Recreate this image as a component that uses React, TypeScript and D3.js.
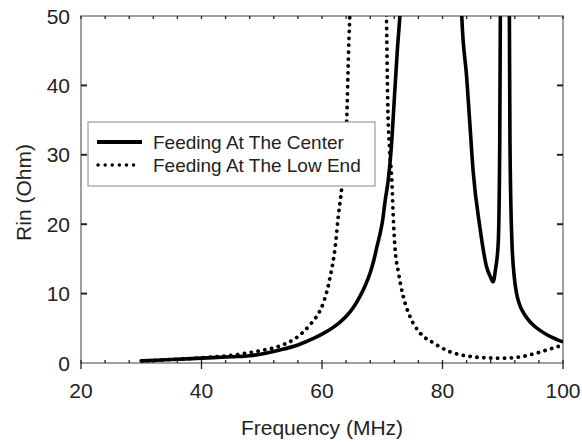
import React from "react";
import * as d3 from "d3";

const centerF = [30, 35, 40, 45, 48, 50, 53, 56, 58.5, 60, 61.8, 63, 64.1, 65.2, 66.3, 67.2, 68, 68.6, 69.1, 69.6, 70, 70.5, 71, 71.5, 72, 72.5, 73, 73.5, 83, 83.2, 84, 84.5, 85.1, 86.2, 87.3, 88, 88.4, 88.8, 89.25, 89.5, 89.6, 89.7, 91, 91.1, 91.2, 91.5, 91.9, 92.3, 92.8, 93.4, 94, 95, 96.2, 97.2, 98.3, 99.2, 100];
const centerR = [0.3, 0.5, 0.7, 0.9, 1.05, 1.3, 1.87, 2.6, 3.5, 4.15, 5.1, 5.9, 6.8, 8.0, 9.6, 11.2, 13, 14.8, 16.7, 18.5, 20.2, 23.5, 26.4, 31, 38, 45, 51, 60, 55, 50, 41.3, 35, 27.5, 19.6, 13.9, 12.3, 11.7, 13.5, 17.3, 31.7, 50, 60, 60, 50, 31.7, 18, 12.5, 10, 8.4, 7.3, 6.5, 5.5, 4.7, 4.15, 3.65, 3.3, 3.05];

const lowF = [30, 35, 40, 45, 48, 50, 53, 55.5, 56.8, 58, 59.7, 60.2, 61.3, 62.2, 62.7, 63.3, 64.1, 64.4, 64.7, 65, 70.5, 70.7, 70.9, 71.2, 71.6, 71.8, 72.1, 72.7, 73.5, 74.6, 76.3, 78.5, 81.2, 84.6, 87, 90, 93, 95.1, 97.3, 99.5, 100];
const lowR = [0.3, 0.5, 0.75, 1.1, 1.5, 1.8, 2.45, 3.5, 4.4, 5.5, 7.6, 8.6, 12.2, 16.8, 21.1, 25.5, 35, 44.7, 52, 60, 60, 50, 38, 31, 26.2, 21.6, 16.8, 13, 9.55, 6.7, 4.3, 2.9, 1.63, 0.95, 0.75, 0.7, 0.9, 1.3, 1.87, 2.5, 2.7];

const xTicks = [20, 40, 60, 80, 100];
const xMinorTicks = d3.range(20, 101, 4);
const yTicks = [0, 10, 20, 30, 40, 50];
const legendLabels = ["Feeding At The Center", "Feeding At The Low End"];
const xTitle = "Frequency (MHz)";
const yTitle = "Rin (Ohm)";

export default function App() {
  const W = 582, H = 442;
  const L = 81, R = 563, T = 16, B = 363;
  const x = d3.scaleLinear().domain([20, 100]).range([L, R]);
  const y = d3.scaleLinear().domain([0, 50]).range([B, T]);
  const line = d3.line<[number, number]>().x(d => x(d[0])).y(d => y(d[1])).curve(d3.curveMonotoneX);
  const centerPts = centerF.map((f, i) => [f, centerR[i]] as [number, number]);
  const lowPts = lowF.map((f, i) => [f, lowR[i]] as [number, number]);
  const font = "'Liberation Sans', Arial, sans-serif";
  const frame = "#808080";
  return (
    <svg width={W} height={H} style={{ position: "absolute", left: 0, top: 0, background: "#fff" }} fontFamily={font}>
      <defs>
        <clipPath id="plot">
          <rect x={L} y={T} width={R - L} height={B - T} />
        </clipPath>
      </defs>
      <rect x={0} y={0} width={W} height={H} fill="#fff" />
      <rect x={L} y={T} width={R - L} height={B - T} fill="none" stroke={frame} strokeWidth={1.5} />
      {xMinorTicks.map(t => (
        <g key={"m" + t}>
          <line x1={x(t)} x2={x(t)} y1={B} y2={B - 3} stroke="#222" strokeWidth={1.3} />
          <line x1={x(t)} x2={x(t)} y1={T} y2={T + 3} stroke="#222" strokeWidth={1.3} />
        </g>
      ))}
      {xTicks.map(t => (
        <g key={"x" + t}>
          <line x1={x(t)} x2={x(t)} y1={B} y2={B + 6} stroke="#222" strokeWidth={1.3} />
          <text x={x(t)} y={398} fontSize={21} textAnchor="middle" fill="#222">{t}</text>
        </g>
      ))}
      {yTicks.map(t => (
        <g key={"y" + t}>
          {t > 0 && t < 50 && (
            <>
              <line x1={L} x2={L + 6} y1={y(t)} y2={y(t)} stroke="#222" strokeWidth={2} />
              <line x1={R} x2={R - 6} y1={y(t)} y2={y(t)} stroke="#222" strokeWidth={2} />
            </>
          )}
          <text x={70} y={y(t) + 7.5} fontSize={21} textAnchor="end" fill="#222">{t}</text>
        </g>
      ))}
      <text x={(L + R) / 2} y={435} fontSize={21} textAnchor="middle" fill="#222">{xTitle}</text>
      <text transform={`translate(31,${(T + B) / 2 + 3}) rotate(-90)`} fontSize={21} textAnchor="middle" fill="#222">{yTitle}</text>
      <g clipPath="url(#plot)">
        <path d={line(lowPts) || ""} fill="none" stroke="#000" strokeWidth={3.8} strokeLinecap="round" strokeDasharray="0.1 6.8" />
        <path d={line(centerPts) || ""} fill="none" stroke="#000" strokeWidth={3.6} strokeLinejoin="round" />
      </g>
      <rect x={88} y={122} width={287} height={64} fill="#fff" stroke="#888" strokeWidth={1} />
      <line x1={97} x2={142} y1={142} y2={142} stroke="#000" strokeWidth={4} />
      <line x1={98} x2={138} y1={165} y2={165} stroke="#000" strokeWidth={3.4} strokeLinecap="round" strokeDasharray="0.1 7" />
      <text x={153} y={148.5} fontSize={19} fill="#222">{legendLabels[0]}</text>
      <text x={153} y={171.5} fontSize={19} fill="#222">{legendLabels[1]}</text>
    </svg>
  );
}
